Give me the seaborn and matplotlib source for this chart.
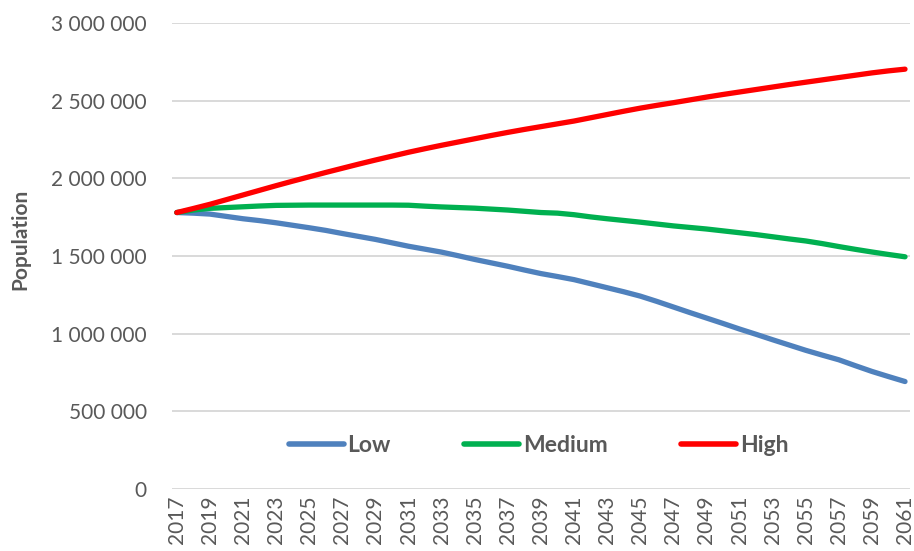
import numpy as np
import pandas as pd
import matplotlib
matplotlib.use("Agg")
import matplotlib.pyplot as plt
from matplotlib.ticker import FuncFormatter
import seaborn as sns

years = list(range(2017, 2062))

low = [1780000, 1776000, 1770000, 1755000, 1740000, 1728000, 1714000, 1698000,
       1682000, 1665000, 1645000, 1626000, 1607000, 1585000, 1563000, 1544000,
       1525000, 1502000, 1478000, 1456000, 1434000, 1410000, 1387000, 1368000,
       1348000, 1322000, 1296000, 1270000, 1242000, 1208000, 1172000, 1136000,
       1101000, 1066000, 1030000, 996000, 961000, 927000, 893000, 862000,
       832000, 794000, 757000, 724000, 692000]

medium = [1780000, 1796000, 1807000, 1812000, 1817000, 1822000, 1826000, 1827000,
          1828000, 1828000, 1828000, 1828000, 1828000, 1828000, 1827000, 1821000,
          1816000, 1812000, 1808000, 1802000, 1796000, 1788000, 1780000, 1776000,
          1766000, 1752000, 1740000, 1729000, 1718000, 1706000, 1694000, 1684000,
          1674000, 1662000, 1650000, 1638000, 1624000, 1610000, 1597000, 1580000,
          1561000, 1543000, 1526000, 1510000, 1495000]

high = [1780000, 1806000, 1833000, 1863000, 1893000, 1923000, 1953000, 1982000,
        2010000, 2038000, 2065000, 2092000, 2118000, 2143000, 2168000, 2191000,
        2213000, 2234000, 2255000, 2276000, 2296000, 2315000, 2333000, 2351000,
        2369000, 2390000, 2411000, 2432000, 2452000, 2470000, 2487000, 2505000,
        2523000, 2540000, 2556000, 2572000, 2588000, 2604000, 2619000, 2634000,
        2649000, 2664000, 2679000, 2692000, 2703000]

scenarios = ["Low", "Medium", "High"]
colors = {"Low": "#4f81bd", "Medium": "#00b050", "High": "#ff0000"}

df = pd.DataFrame({
    "Year": years * 3,
    "Population": low + medium + high,
    "Scenario": ["Low"] * len(years) + ["Medium"] * len(years) + ["High"] * len(years),
})

sns.set_theme(style="white")
plt.rcParams["font.family"] = ["Lato", "DejaVu Sans"]
text_color = "#595959"

fig = plt.figure(figsize=(9.14, 5.51), dpi=100)
ax = fig.add_axes([0.188, 0.1125, 0.8076, 0.8457])

sns.lineplot(data=df, x="Year", y="Population", hue="Scenario",
             hue_order=scenarios, palette=colors, linewidth=3.8,
             solid_capstyle="round", ax=ax)

ax.set_ylim(0, 3000000)
ax.set_xlim(2017 - 0.3, 2061 + 0.3)
ax.set_yticks(np.arange(0, 3000001, 500000))
ax.yaxis.set_major_formatter(FuncFormatter(lambda v, p: format(int(v), ",").replace(",", " ")))
ax.set_xticks(years[::2])
ax.set_xticklabels([str(y) for y in years[::2]], rotation=90)

ax.grid(axis="y", color="#d9d9d9", linewidth=1.4)
ax.set_axisbelow(True)
for s in ax.spines.values():
    s.set_visible(False)

ax.tick_params(axis="y", length=0, pad=18, labelsize=15, labelcolor=text_color)
ax.tick_params(axis="x", length=0, pad=5, labelsize=15, labelcolor=text_color)

ax.set_xlabel("")
ax.set_ylabel("Population", fontsize=15, fontweight="bold", color=text_color)
ax.yaxis.set_label_coords(-0.191, 0.535)

leg = ax.legend(loc="center", bbox_to_anchor=(0.497, 0.094), ncol=3, frameon=False,
                handlelength=2.4, handletextpad=0.17, columnspacing=3.2,
                prop={"size": 16.5, "weight": "bold"})
for t in leg.get_texts():
    t.set_color(text_color)
for h in leg.get_lines():
    h.set_linewidth(4.0)

fig.savefig("out.png", dpi=100)
